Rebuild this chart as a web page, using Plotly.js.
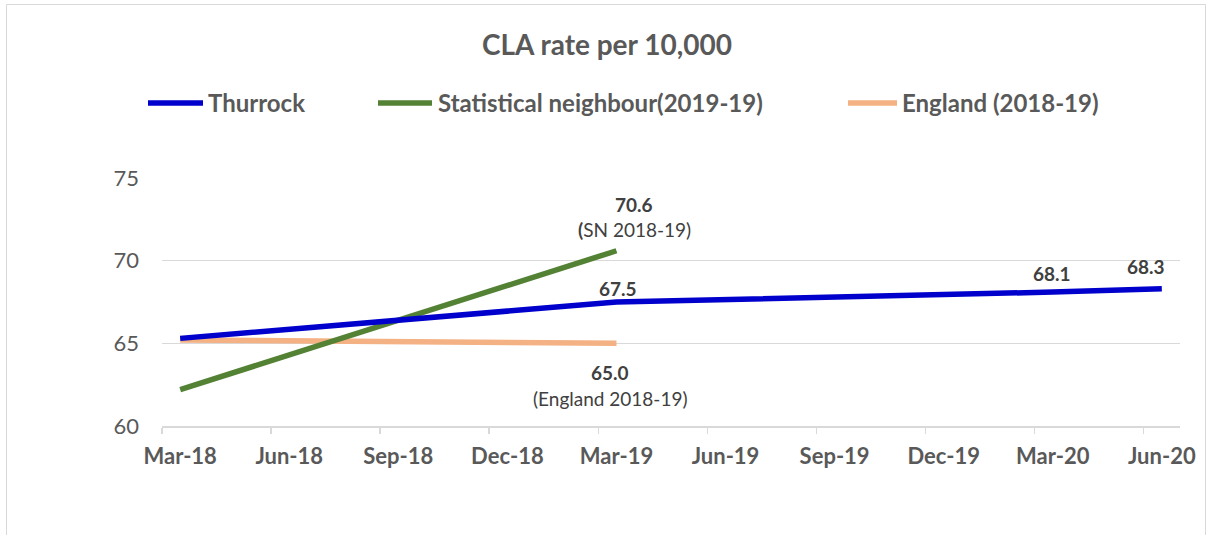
<!DOCTYPE html>
<html>
<head>
<meta charset="utf-8">
<script src="https://cdn.plot.ly/plotly-3.0.1.min.js"></script>
<style>html,body{margin:0;padding:0;background:#fff;}#chart{width:1211px;height:535px;}</style>
</head>
<body>
<div id="chart"></div>
<script>
// Quarter tick labels (date axis, monthly base unit, one label every 3 months)
const tickLabels = ['Mar-18','Jun-18','Sep-18','Dec-18','Mar-19','Jun-19','Sep-19','Dec-19','Mar-20','Jun-20'];

// Series
const thurrockPeriods = ['Mar-18','Mar-19','Mar-20','Jun-20'];
const thurrockValues  = [65.3, 67.5, 68.1, 68.3];

const snPeriods = ['Mar-18','Mar-19'];
const snValues  = [62.2, 70.6];

const englandPeriods = ['Mar-18','Mar-19'];
const englandValues  = [65.2, 65.0];

const seriesNames = ['Thurrock','Statistical neighbour(2019-19)','England (2018-19)'];
const seriesColors = ['#0000CC','#548235','#F4B183'];

// month index along the axis (each tick label is 3 months apart)
const monthIdx = p => tickLabels.indexOf(p) * 3;

const W = 1211, H = 535;
const L = 162, R = 31, T = 178, B = 109;
const pw = W - L - R, ph = H - T - B;
const px2x = px => (px - L) / pw;
const py2y = py => (H - B - py) / ph;

const font = 'Lato, "Open Sans", sans-serif';
const tickCol = '#595959';
const labCol = '#404040';

const traces = [
  {x: thurrockPeriods.map(monthIdx), y: thurrockValues, name: seriesNames[0]},
  {x: snPeriods.map(monthIdx), y: snValues, name: seriesNames[1]},
  {x: englandPeriods.map(monthIdx), y: englandValues, name: seriesNames[2]}
].map((t, i) => Object.assign(t, {
  type: 'scatter', mode: 'lines', showlegend: false, hoverinfo: 'skip',
  line: {color: seriesColors[i], width: 5.5}
}));
// draw order: England, SN, Thurrock on top
const data = [traces[2], traces[1], traces[0]];

const annotations = [
  {x: monthIdx(snPeriods[1]), y: snValues[1], text: '<b>' + snValues[1].toFixed(1) + '</b>', xshift: 18, yshift: 46},
  {x: monthIdx(snPeriods[1]), y: snValues[1], text: '<b>(</b>SN 2018-19)', xshift: 18, yshift: 21},
  {x: monthIdx(thurrockPeriods[1]), y: thurrockValues[1], text: '<b>' + thurrockValues[1].toFixed(1) + '</b>', xshift: 2, yshift: 14},
  {x: monthIdx(englandPeriods[1]), y: englandValues[1], text: '<b>' + englandValues[1].toFixed(1) + '</b>', xshift: -6, yshift: -29},
  {x: monthIdx(englandPeriods[1]), y: englandValues[1], text: '(England 2018-19)', xshift: -6, yshift: -55},
  {x: monthIdx(thurrockPeriods[2]), y: thurrockValues[2], text: '<b>' + thurrockValues[2].toFixed(1) + '</b>', xshift: -1, yshift: 19},
  {x: monthIdx(thurrockPeriods[3]), y: thurrockValues[3], text: '<b>' + thurrockValues[3].toFixed(1) + '</b>', xshift: -16, yshift: 22}
].map(a => Object.assign(a, {
  xref: 'x', yref: 'y', showarrow: false, xanchor: 'center', yanchor: 'middle',
  font: {family: font, size: 19, color: labCol}
}));

// custom legend
const legendItems = [
  {x0: 148, x1: 203, tx: 206},
  {x0: 378, x1: 432, tx: 436},
  {x0: 848, x1: 897, tx: 900}
];
const legendY = 103;
const shapes = [];
legendItems.forEach((it, i) => {
  shapes.push({type: 'line', xref: 'paper', yref: 'paper',
    x0: px2x(it.x0), x1: px2x(it.x1), y0: py2y(legendY), y1: py2y(legendY),
    line: {color: seriesColors[i], width: 5.5}});
  annotations.push({xref: 'paper', yref: 'paper', x: px2x(it.tx), y: py2y(legendY),
    xanchor: 'left', yanchor: 'middle', showarrow: false,
    text: '<b>' + seriesNames[i] + '</b>',
    font: {family: font, size: 24, color: tickCol}});
});
// chart-area border
shapes.push({type: 'rect', xref: 'paper', yref: 'paper',
  x0: px2x(6.5), x1: px2x(1205.5), y0: py2y(545), y1: py2y(4.5),
  line: {color: '#d9d9d9', width: 1}, fillcolor: 'rgba(0,0,0,0)', layer: 'below'});

const layout = {
  width: W, height: H,
  margin: {l: L, r: R, t: T, b: B, pad: 0},
  paper_bgcolor: '#fff', plot_bgcolor: '#fff',
  title: {text: '<b>CLA rate per 10,000</b>', x: 607 / W, xanchor: 'center', xref: 'container',
    y: 1 - 45 / H, yanchor: 'middle', yref: 'container',
    font: {family: font, size: 28, color: tickCol}},
  xaxis: {
    range: [-0.5, tickLabels.length * 3 - 2.5],
    tickmode: 'array', tickvals: tickLabels.map(monthIdx), ticktext: tickLabels.map(t => '<b>' + t + '</b>'),
    ticks: '', showgrid: false, zeroline: false,
    showline: true, linecolor: '#d9d9d9', linewidth: 1.5,
    ticklabelstandoff: 10,
    minor: {tick0: -0.5, dtick: 3, ticks: 'outside', ticklen: 6, tickcolor: '#d9d9d9', tickwidth: 1.5, showgrid: false},
    tickfont: {family: font, size: 22, color: tickCol},
    fixedrange: true
  },
  yaxis: {
    range: [60, 75], tickmode: 'array', tickvals: [60, 65, 70, 75],
    showgrid: true, gridcolor: '#d9d9d9', gridwidth: 1.5, zeroline: false,
    showline: false, ticks: '', ticklabelstandoff: 22,
    tickfont: {family: font, size: 22, color: tickCol},
    fixedrange: true
  },
  annotations: annotations,
  shapes: shapes
};

Plotly.newPlot('chart', data, layout, {displayModeBar: false, staticPlot: true});
</script>
</body>
</html>
